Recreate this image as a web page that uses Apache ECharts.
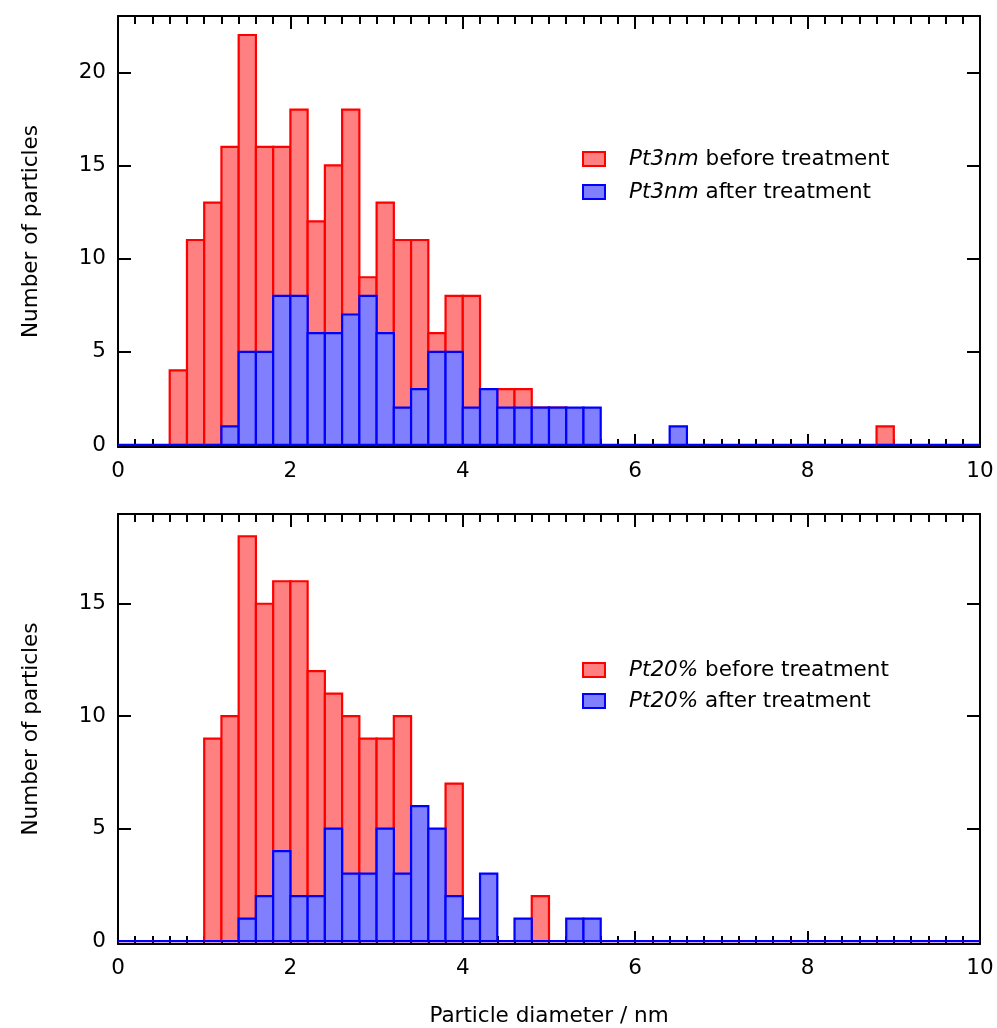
<!DOCTYPE html>
<html>
<head>
<meta charset="utf-8">
<script src="https://cdn.jsdelivr.net/npm/echarts@6/dist/echarts.min.js"></script>
<style>
html,body{margin:0;padding:0;background:#fff;}
#chart{width:997px;height:1028px;}
</style>
</head>
<body>
<div id="chart"></div>
<script>
// histogram bins: 0.2 nm wide, from 0 to 10 nm (50 bins)
var binWidth = 0.2;
var nameTopBefore = 'Pt3nm before treatment';
var nameTopAfter = 'Pt3nm after treatment';
var nameBotBefore = 'Pt20% before treatment';
var nameBotAfter = 'Pt20% after treatment';

var pt3Before = [0,0,0,4,11,13,16,22,16,16, 18,12,15,18,9,13,11,11,6,8, 8,3,3,3,2,2,0,0,0,0, 0,0,0,0,0,0,0,0,0,0, 0,0,0,0,1,0,0,0,0,0];
var pt3After  = [0,0,0,0,0,0,1,5,5,8, 8,6,6,7,8,6,2,3,5,5, 2,3,2,2,2,2,2,2,0,0, 0,0,1,0,0,0,0,0,0,0, 0,0,0,0,0,0,0,0,0,0];
var pt20Before = [0,0,0,0,0,9,10,18,15,16, 16,12,11,10,9,9,10,5,4,7, 0,0,0,0,2,0,0,0,0,0, 0,0,0,0,0,0,0,0,0,0, 0,0,0,0,0,0,0,0,0,0];
var pt20After  = [0,0,0,0,0,0,0,1,2,4, 2,2,5,3,3,5,3,6,5,2, 1,3,0,1,0,0,1,1,0,0, 0,0,0,0,0,0,0,0,0,0, 0,0,0,0,0,0,0,0,0,0];

var xTicks = [0, 2, 4, 6, 8, 10];
var yTicksTop = [0, 5, 10, 15, 20];
var yTicksBot = [0, 5, 10, 15];

var RED = {fill:'#ff8080', stroke:'#ff0000'};
var BLUE = {fill:'#8080ff', stroke:'#0000ff'};
var FONT = 'DejaVu Sans';

function toBins(counts){
	var out = [];
	for(var i=0;i<counts.length;i++){
		out.push([Math.round(i*binWidth*10)/10, counts[i]]);
	}
	return out;
}

function histSeries(name, counts, col, idx){
	return {
		name: name,
		type: 'custom',
		xAxisIndex: idx*2,
		yAxisIndex: idx*2,
		clip: false,
		itemStyle: {color: col.fill, borderColor: col.stroke, borderWidth: 2},
		encode: {x: 0, y: 1},
		data: toBins(counts),
		renderItem: function(params, api){
			var x0 = api.value(0), v = api.value(1);
			var p0 = api.coord([x0, 0]);
			var p1 = api.coord([x0 + binWidth, v]);
			if(v === 0){
				return {type:'line', shape:{x1:p0[0], y1:p0[1], x2:p1[0], y2:p0[1]},
					style:{stroke: col.stroke, lineWidth: 2.2}};
			}
			return {
				type: 'rect',
				shape: {x: p0[0], y: p1[1], width: p1[0]-p0[0], height: p0[1]-p1[1]},
				style: {fill: col.fill, stroke: col.stroke, lineWidth: 2.2}
			};
		}
	};
}

function xAxes(gi, showName){
	var base = {
		type: 'value', gridIndex: gi, min: 0, max: 10, interval: 2,
		splitLine: {show:false},
		axisLine: {onZero:false, lineStyle:{color:'#000', width:2}},
		axisTick: {inside:true, length:13, lineStyle:{color:'#000', width:2}},
		minorTick: {show:true, splitNumber:10, length:8, lineStyle:{color:'#000', width:2}}
	};
	var bottom = echarts.util.merge({
		position: 'bottom',
		axisLabel: {margin: 13, color:'#000', fontSize: 21.5, fontFamily: FONT,
			customValues: xTicks},
		name: showName ? 'Particle diameter / nm' : '',
		nameLocation: 'middle', nameGap: 61,
		nameTextStyle: {color:'#000', fontSize: 21.5, fontFamily: FONT}
	}, base, true);
	var top = echarts.util.merge({position:'top', axisLabel:{show:false}}, base, true);
	return [bottom, top];
}

function yAxes(gi, min, max, ticks){
	var base = {
		type: 'value', gridIndex: gi, min: min, max: max,
		splitLine: {show:false},
		axisLine: {onZero:false, lineStyle:{color:'#000', width:2}},
		axisTick: {inside:true, length:13, customValues: ticks, lineStyle:{color:'#000', width:2}}
	};
	var left = echarts.util.merge({
		position: 'left',
		axisLabel: {margin: 12, color:'#000', fontSize: 21.5, fontFamily: FONT, customValues: ticks},
		name: 'Number of particles',
		nameLocation: 'middle', nameGap: 76,
		nameTextStyle: {color:'#000', fontSize: 21.5, fontFamily: FONT}
	}, base, true);
	var right = echarts.util.merge({position:'right', axisLabel:{show:false}}, base, true);
	return [left, right];
}

function legendFor(names, cols, top, gap){
	return {
		orient: 'vertical', left: 582, top: top, padding: 0,
		itemWidth: 22, itemHeight: 14, itemGap: gap,
		icon: 'rect', selectedMode: false,
		data: names.map(function(n, i){
			return {name: n, itemStyle: {color: cols[i].fill, borderColor: cols[i].stroke, borderWidth: 2}};
		}),
		formatter: function(name){
			var k = name.indexOf(' ');
			return '{i|' + name.slice(0, k) + '}' + name.slice(k);
		},
		textStyle: {
			color: '#000', fontSize: 21.5, fontFamily: FONT, lineHeight: 22,
			padding: [0, 0, 0, 19],
			rich: {i: {fontStyle: 'italic', fontSize: 21.5, fontFamily: FONT, color: '#000'}}
		}
	};
}

var chart = echarts.init(document.getElementById('chart'), null, {renderer: 'canvas'});
var xa1 = xAxes(0, false), xa2 = xAxes(1, true);
var ya1 = yAxes(0, -0.11, 23.02, yTicksTop), ya2 = yAxes(1, -0.13, 18.99, yTicksBot);

var options = {
	backgroundColor: '#ffffff',
	animation: false,
	grid: [
		{left: 118, top: 16, width: 862, height: 431},
		{left: 118, top: 514, width: 862, height: 430}
	],
	legend: [
		legendFor([nameTopBefore, nameTopAfter], [RED, BLUE], 148, 11),
		legendFor([nameBotBefore, nameBotAfter], [RED, BLUE], 659, 9)
	],
	xAxis: [xa1[0], xa1[1], xa2[0], xa2[1]],
	yAxis: [ya1[0], ya1[1], ya2[0], ya2[1]],
	series: [
		histSeries(nameTopBefore, pt3Before, RED, 0),
		histSeries(nameTopAfter, pt3After, BLUE, 0),
		histSeries(nameBotBefore, pt20Before, RED, 1),
		histSeries(nameBotAfter, pt20After, BLUE, 1)
	]
};
chart.setOption(options);
</script>
</body>
</html>
